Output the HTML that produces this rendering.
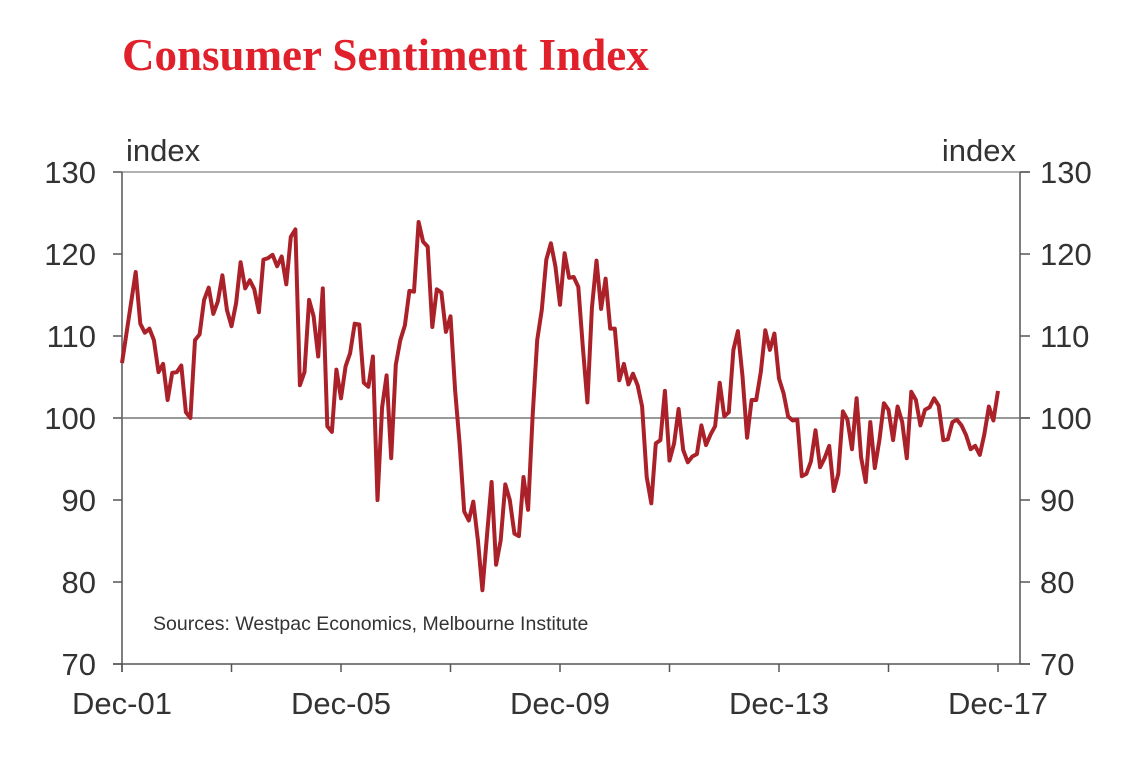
<!DOCTYPE html>
<html><head><meta charset="utf-8"><style>
body{margin:0;background:#fff;width:1140px;height:768px;overflow:hidden}
svg text{font-family:"Liberation Sans",sans-serif;fill:#333}
</style></head><body>
<svg id="chart" width="1140" height="768" xmlns="http://www.w3.org/2000/svg">
<text x="122" y="70" style="font-family:'Liberation Serif',serif;font-weight:bold;font-size:45px;fill:#e0202a">Consumer Sentiment Index</text>
<text x="126" y="161" font-size="31">index</text>
<text x="1016" y="161" font-size="31" text-anchor="end">index</text>
<text x="153" y="630" font-size="19.5">Sources: Westpac Economics, Melbourne Institute</text>
<g id="axes"></g>
<g id="series"></g>
</svg>
<script>
const yTicks=[70,80,90,100,110,120,130];
const xTickLabels=["Dec-01","Dec-05","Dec-09","Dec-13","Dec-17"];
const months=[0,3,4,5,6,7,8,9,10,11,12,13,14,15,16,17,18,19,20,21,22,23,24,25,26,27,28,29,30,31,32,33,34,35,36,37,38,39,40,41,42,43,44,45,46,47,48,49,
50,51,52,53,54,55,56,57,58,59,60,61,62,63,64,65,66,67,68,69,70,71,72,73,74,75,76,77,78,79,80,81,82,83,84,85,86,87,88,89,90,91,92,93,94,95,96,97,
98,99,100,101,102,103,104,105,106,107,108,109,110,111,112,113,114,115,116,117,118,119,120,121,122,123,124,125,126,127,128,129,130,131,132,133,134,135,136,137,138,139,140,141,142,143,
144,145,146,147,148,149,150,151,152,153,154,155,156,157,158,159,160,161,162,163,164,165,166,167,168,169,170,171,172,173,174,175,176,177,178,179,180,181,182,183,184,185,186,187,188,189,190,191,192];
const values=[106.7,117.8,111.5,110.4,110.9,109.5,105.6,106.6,102.2,105.5,105.6,106.4,100.7,100,109.5,110.2,114.4,115.9,112.7,114.2,117.4,113.2,111.2,114,119,115.8,116.8,115.7,112.9,119.3,119.5,119.9,118.5,119.7,116.3,122.1,123,104,105.6,114.4,112.4,107.5,115.8,99,98.3,105.9,102.4,106.3,
107.9,111.5,111.4,104.3,103.8,107.5,90,101.3,105.2,95.1,106.5,109.5,111.3,115.5,115.4,123.9,121.5,120.9,111.1,115.7,115.3,110.5,112.4,103.4,96.9,88.6,87.5,89.8,85.1,79,85.7,92.2,82.1,85.1,91.9,90,85.9,85.6,92.8,88.8,100.2,109.5,113.2,119.3,121.3,118.5,113.8,120.1,
117.1,117.2,116,108.7,101.9,113.4,119.2,113.3,117,110.9,110.9,104.6,106.6,104.1,105.4,104,101.4,92.8,89.6,96.9,97.3,103.3,94.8,96.9,101.1,96.1,94.6,95.3,95.6,99.1,96.7,98,99,104.3,100.2,100.7,108.3,110.6,105.1,97.6,102.2,102.2,105.6,110.7,108.3,110.3,
104.8,103,100.2,99.7,99.8,92.9,93.2,94.7,98.5,94,95.1,96.6,91.1,93.2,100.8,99.8,96.2,102.4,95.2,92.2,99.5,93.9,97.3,101.8,101,97.3,101.4,99.5,95.1,103.2,102.2,99.1,101,101.3,102.4,101.5,97.3,97.4,99.5,99.8,99.1,97.9,96.2,96.6,95.5,98,101.4,99.7,103.3];
const X0=122,X1=1020,Y0=664,Y1=172;
const xs=m=>X0+m*4.5625;
const ys=v=>Y0-(v-70)*(Y0-Y1)/60;
const NS="http://www.w3.org/2000/svg";
const ax=document.getElementById('axes');
function mk(tag,attrs,parent){const e=document.createElementNS(NS,tag);for(const k in attrs)e.setAttribute(k,attrs[k]);parent.appendChild(e);return e;}
let e;
e=mk('line',{x1:X0,y1:Y1,x2:1030,y2:Y1,stroke:'#999','stroke-width':1.5},ax);


e=mk('line',{x1:X0,y1:Y1,x2:X0,y2:Y0+8,stroke:'#555','stroke-width':1.5},ax);


e=mk('line',{x1:X1,y1:Y1,x2:X1,y2:Y0,stroke:'#555','stroke-width':1.5},ax);


e=mk('line',{x1:X0-9,y1:Y0,x2:1030,y2:Y0,stroke:'#555','stroke-width':1.5},ax);


e=mk('line',{x1:X0,y1:ys(100),x2:1030,y2:ys(100),stroke:'#777','stroke-width':1.5},ax);


yTicks.forEach(v=>{
  const y=ys(v);
  let t=mk('line',{x1:X0-9,y1:y,x2:X0,y2:y,stroke:'#555','stroke-width':1.5},ax);
  
  
  t=mk('line',{x1:X1,y1:y,x2:1030,y2:y,stroke:'#555','stroke-width':1.5},ax);
  
  
  let l=mk('text',{x:96,y:y+11,'font-size':31,'text-anchor':'end'},ax);l.textContent=v;
  
  
  l=mk('text',{x:1040,y:y+11,'font-size':31},ax);l.textContent=v;
  
  
});
for(let i=0;i<=8;i++){
  const x=xs(i*24);
  const t=mk('line',{x1:x,y1:Y0,x2:x,y2:Y0+8,stroke:'#555','stroke-width':1.5},ax);
  
  
}
xTickLabels.forEach((s,i)=>{
  const l=mk('text',{x:xs(i*48),y:714,'font-size':31,'text-anchor':'middle'},ax);l.textContent=s;
  
  
});
const d=months.map((m,i)=>(i?'L':'M')+xs(m).toFixed(1)+','+ys(values[i]).toFixed(1)).join(' ');
const p=mk('path',{d:d,fill:'none',stroke:'#ab2129','stroke-width':4,'stroke-linejoin':'round'},document.getElementById('series'));


</script>
</body></html>
